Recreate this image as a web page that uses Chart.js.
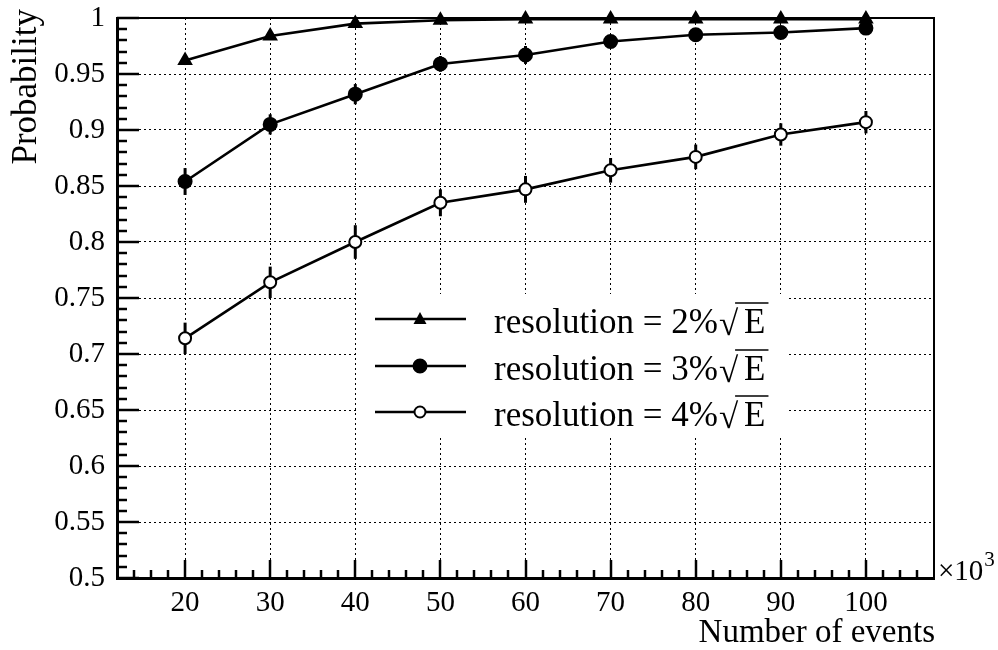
<!DOCTYPE html>
<html>
<head>
<meta charset="utf-8">
<script src="https://cdn.jsdelivr.net/npm/chart.js@4/dist/chart.umd.min.js"></script>
<style>
html,body{margin:0;padding:0;background:#fff;}
#wrap{width:998px;height:650px;position:relative;}
</style>
</head>
<body>
<div id="wrap"><canvas id="c" width="998" height="650"></canvas></div>
<script>
// ---- data ----
const events = [20, 30, 40, 50, 60, 70, 80, 90, 100];           // x 10^3
const prob2 = [0.962, 0.984, 0.995, 0.998, 0.999, 0.999, 0.999, 0.999, 0.999];
const err2  = [0.004, 0.003, 0.002, 0.001, 0.001, 0.001, 0.001, 0.001, 0.001];
const prob3 = [0.854, 0.905, 0.932, 0.959, 0.967, 0.979, 0.985, 0.987, 0.991];
const err3  = [0.012, 0.009, 0.009, 0.007, 0.008, 0.005, 0.004, 0.004, 0.004];
const prob4 = [0.714, 0.764, 0.800, 0.835, 0.847, 0.864, 0.876, 0.896, 0.907];
const err4  = [0.014, 0.014, 0.015, 0.012, 0.012, 0.011, 0.011, 0.010, 0.010];
const seriesNames = ['resolution = 2%', 'resolution = 3%', 'resolution = 4%'];
const yTickLabels = ['0.5','0.55','0.6','0.65','0.7','0.75','0.8','0.85','0.9','0.95','1'];
const xTickLabels = ['20','30','40','50','60','70','80','90','100'];
const xTitle = 'Number of events';
const yTitle = 'Probability';

const SERIF = '"Liberation Serif", "Times New Roman", serif';

function pts(ys){ return events.map((x,i)=>({x:x, y:ys[i]})); }

const datasets = [
  {label: seriesNames[0], data: pts(prob2), err: err2, pointStyle:'triangle', pointRadius:7, pointBackgroundColor:'#000', marker:'tri'},
  {label: seriesNames[1], data: pts(prob3), err: err3, pointStyle:'circle', pointRadius:6.5, pointBackgroundColor:'#000', marker:'dot'},
  {label: seriesNames[2], data: pts(prob4), err: err4, pointStyle:'circle', pointRadius:6, pointBackgroundColor:'#fff', marker:'open'}
].map(d => Object.assign({
  borderColor:'#000', borderWidth:2.6, tension:0, fill:false, clip:false,
  pointBorderColor:'#000', pointBorderWidth:2, pointHoverRadius:6
}, d));

// error bars, drawn beneath the markers
const errorBars = {
  id:'errorBars',
  beforeDatasetsDraw(chart){
    const ctx = chart.ctx, xs = chart.scales.x, ys = chart.scales.y;
    ctx.save();
    ctx.strokeStyle = '#000'; ctx.lineWidth = 3;
    chart.data.datasets.forEach(ds=>{
      ds.data.forEach((p,i)=>{
        const e = ds.err[i];
        const px = xs.getPixelForValue(p.x);
        ctx.beginPath();
        ctx.moveTo(px, ys.getPixelForValue(Math.min(p.y + e, 1)));
        ctx.lineTo(px, ys.getPixelForValue(p.y - e));
        ctx.stroke();
      });
    });
    ctx.restore();
  }
};

// ROOT-style inner ticks, frame, titles, legend
const decor = {
  id:'decor',
  beforeDatasetsDraw(chart){
    const ctx = chart.ctx, xs = chart.scales.x, ys = chart.scales.y, a = chart.chartArea;
    ctx.save();
    // legend box (white, borderless) hides the grid behind it
    ctx.fillStyle = '#fff';
    ctx.fillRect(356, 294, 430, 141);
    ctx.strokeStyle = '#000';
    // frame top & right
    ctx.lineWidth = 2;
    ctx.beginPath();
    ctx.moveTo(a.left, a.top); ctx.lineTo(a.right, a.top); ctx.lineTo(a.right, a.bottom);
    ctx.stroke();
    // y ticks
    ctx.lineWidth = 2.5;
    for (let i = 0; i <= 50; i++) {
      const v = 0.5 + i * 0.01;
      const py = Math.round(ys.getPixelForValue(v)) ;
      const len = (i % 5 === 0) ? 22 : 10;
      ctx.beginPath(); ctx.moveTo(a.left, py); ctx.lineTo(a.left + len, py); ctx.stroke();
    }
    // x ticks
    for (let v = 14; v <= 106; v += 2) {
      const px = Math.round(xs.getPixelForValue(v));
      const len = (v % 10 === 0) ? 18 : 8;
      ctx.beginPath(); ctx.moveTo(px, a.bottom); ctx.lineTo(px, a.bottom - len); ctx.stroke();
    }
    ctx.restore();
  },
  afterDraw(chart){
    const ctx = chart.ctx, a = chart.chartArea;
    ctx.save();
    ctx.fillStyle = '#000';
    // x title
    ctx.font = '33px ' + SERIF;
    ctx.textAlign = 'right'; ctx.textBaseline = 'alphabetic';
    ctx.fillText(xTitle, a.right + 1, 642);
    // x10^3
    ctx.textAlign = 'left';
    ctx.font = '29px ' + SERIF;
    ctx.fillText('\u00d710', a.right + 4, 580);
    const w = ctx.measureText('\u00d710').width;
    ctx.font = '21px ' + SERIF;
    ctx.fillText('3', a.right + 4 + w + 1, 566);
    // y title
    ctx.save();
    ctx.translate(36, 9);
    ctx.rotate(-Math.PI/2);
    ctx.font = '35px ' + SERIF;
    ctx.textAlign = 'right'; ctx.textBaseline = 'alphabetic';
    ctx.fillText(yTitle, 0, 0);
    ctx.restore();
    // legend
    const rows = [319, 366, 412];
    chart.data.datasets.forEach((ds, k)=>{
      const y = rows[k];
      ctx.strokeStyle = '#000'; ctx.lineWidth = 2.6;
      ctx.beginPath(); ctx.moveTo(375, y); ctx.lineTo(466, y); ctx.stroke();
      ctx.lineWidth = 2;
      if (ds.marker === 'tri') {
        ctx.beginPath(); ctx.moveTo(420, y - 7); ctx.lineTo(426.5, y + 5); ctx.lineTo(413.5, y + 5); ctx.closePath(); ctx.fill();
      } else {
        ctx.beginPath(); ctx.arc(420, y, ds.marker === 'dot' ? 6.5 : 5.5, 0, Math.PI*2);
        ctx.fillStyle = ds.marker === 'dot' ? '#000' : '#fff'; ctx.fill(); ctx.stroke();
        ctx.fillStyle = '#000';
      }
      // text
      ctx.font = '35px ' + SERIF;
      ctx.textAlign = 'left'; ctx.textBaseline = 'alphabetic';
      const base = y + 14;
      const t = ds.label;
      ctx.fillText(t, 494, base);
      let x = 494 + ctx.measureText(t).width + 1;
      ctx.fillText('\u221a', x, base + 2);
      x += ctx.measureText('\u221a').width + 6;
      ctx.fillText('E', x, base);
      const we = ctx.measureText('E').width;
      ctx.lineWidth = 1.5;
      ctx.beginPath(); ctx.moveTo(x - 9, base - 30); ctx.lineTo(x + we + 3, base - 30); ctx.stroke();
    });
    ctx.restore();
  }
};

new Chart(document.getElementById('c'), {
  type:'line',
  data:{ datasets: datasets },
  plugins:[errorBars, decor],
  options:{
    responsive:false, animation:false,
    layout:{ padding:{ top:18, right:64, bottom:0, left:0 } },
    plugins:{ legend:{display:false}, tooltip:{enabled:false} },
    scales:{
      x:{
        type:'linear', min:12, max:108,
        afterBuildTicks(s){ s.ticks = events.map(v=>({value:v})); },
        afterFit(s){ s.height = 72; s.paddingLeft = 0; s.paddingRight = 0; },
        ticks:{ color:'#000', font:{family:SERIF, size:29}, padding:8, maxRotation:0,
          callback:(v)=> xTickLabels[events.indexOf(v)] },
        grid:{ color:'#000', lineWidth:1, drawTicks:false },
        border:{ display:true, color:'#000', width:3, dash:[2,3] }
      },
      y:{
        type:'linear', min:0.5, max:1,
        afterBuildTicks(s){ s.ticks = yTickLabels.map(t=>({value:parseFloat(t)})); },
        afterFit(s){ s.width = 117; s.paddingTop = 0; s.paddingBottom = 0; },
        ticks:{ color:'#000', font:{family:SERIF, size:29}, padding:12,
          callback:(v)=> yTickLabels.find(t=>Math.abs(parseFloat(t)-v)<1e-9) },
        grid:{ color:'#000', lineWidth:1, drawTicks:false },
        border:{ display:true, color:'#000', width:3, dash:[2,3] }
      }
    }
  }
});
</script>
</body>
</html>
